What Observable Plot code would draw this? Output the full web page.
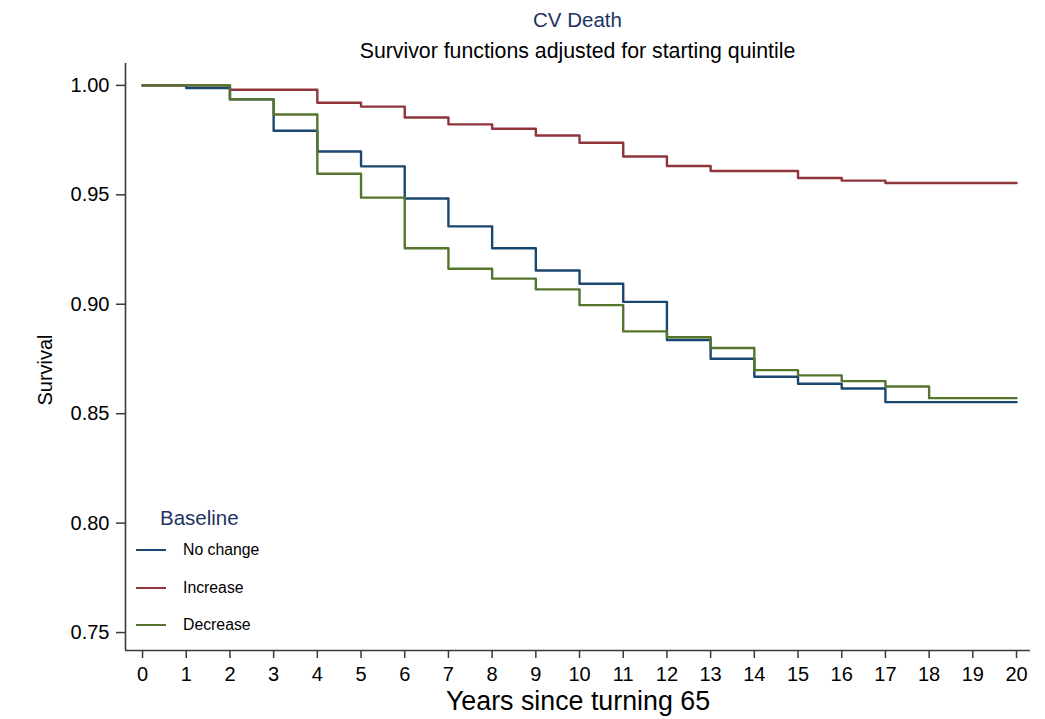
<!DOCTYPE html>
<html><head><meta charset="utf-8">
<script src="https://cdn.jsdelivr.net/npm/d3@7"></script>
<script src="https://cdn.jsdelivr.net/npm/@observablehq/plot@0.6"></script>
<style>
body{margin:0;background:#fff;font-family:"Liberation Sans",Arial,Helvetica,sans-serif;}
#wrap{position:relative;width:1045px;height:719px;overflow:hidden;}
#head{height:63px;position:relative;}
.t1{position:absolute;left:125px;width:905px;text-align:center;top:8px;font-size:20.5px;color:#1e3262;}
.t2{position:absolute;left:125px;width:905px;text-align:center;top:39px;font-size:21.3px;color:#000;}
.ylab{position:absolute;left:45px;top:370px;transform:translate(-50%,-50%) rotate(-90deg);font-size:20px;white-space:nowrap;}
.xlab{position:absolute;left:578px;top:701px;transform:translate(-50%,-50%);font-size:26.8px;white-space:nowrap;}
.legtitle{position:absolute;left:160px;top:506px;font-size:20.5px;color:#1e3262;white-space:nowrap;}
.legrow{position:absolute;left:136px;height:20px;white-space:nowrap;}
.legrow span.sw{position:absolute;left:0;top:9px;width:30px;height:2px;}
.legrow span.lb{position:absolute;left:47px;top:0;font-size:15.8px;line-height:20px;}
svg{overflow:visible;}
</style>
</head><body>
<div id="wrap">
  <div id="head"><div class="t1">CV Death</div><div class="t2">Survivor functions adjusted for starting quintile</div></div>
  <div id="chart"></div>
  <div class="ylab">Survival</div>
  <div class="xlab">Years since turning 65</div>
  <div id="legend"></div>
</div>
<script>
const years = [0,1,2,3,4,5,6,7,8,9,10,11,12,13,14,15,16,17,18,19,20];
const seriesNames = ["No change","Increase","Decrease"];
const seriesColors = ["#1a476f","#90353b","#55752f"];
const noChange = [1.000,0.9988,0.9936,0.9793,0.9698,0.9630,0.9483,0.9356,0.9256,0.9154,0.9094,0.9011,0.8837,0.8751,0.8669,0.8637,0.8615,0.8553,0.8553,0.8553,0.8553];
const increase = [1.000,1.000,0.9980,0.9980,0.9921,0.9903,0.9853,0.9822,0.9802,0.9771,0.9738,0.9675,0.9632,0.9609,0.9609,0.9577,0.9565,0.9554,0.9554,0.9554,0.9554];
const decrease = [1.000,1.000,0.9936,0.9867,0.9596,0.9487,0.9256,0.9162,0.9117,0.9068,0.8996,0.8876,0.8849,0.8800,0.8699,0.8675,0.8649,0.8624,0.8571,0.8571,0.8571];
const yTicks = [0.75,0.80,0.85,0.90,0.95,1.00];
const xTicks = years;
const xDomain = [-0.39, 20.32];
const yDomain = [0.7418, 1.010];

const seriesValues = [noChange, increase, decrease];
const data = [];
seriesNames.forEach((name, i) => {
  years.forEach((yr, j) => data.push({series: name, year: yr, value: seriesValues[i][j]}));
});

const axisColor = "#3a3a3a";
const chart = Plot.plot({
  width: 1045,
  height: 656,
  marginTop: 0,
  marginLeft: 125,
  marginRight: 15,
  marginBottom: 69,
  style: {fontFamily: '"Liberation Sans", Arial, Helvetica, sans-serif', background: "#fff", color: "#000"},
  x: {domain: xDomain},
  y: {domain: yDomain},
  color: {domain: seriesNames, range: seriesColors},
  marks: [
    Plot.ruleX([xDomain[0]], {stroke: axisColor, strokeWidth: 1.6}),
    Plot.ruleY([yDomain[0]], {stroke: axisColor, strokeWidth: 1.6}),
    Plot.axisY({ticks: yTicks, tickFormat: d3.format(".2f"), tickSize: 9, tickPadding: 7, fontSize: 20, label: null, stroke: axisColor, strokeWidth: 1.5, strokeOpacity: 1, color: "#000"}),
    Plot.axisX({ticks: xTicks, tickFormat: d => String(d), tickSize: 8, tickPadding: 8, fontSize: 20, label: null, stroke: axisColor, strokeWidth: 1.5, strokeOpacity: 1, color: "#000"}),
    Plot.line(data, {x: "year", y: "value", z: "series", stroke: "series", curve: "step-after", strokeWidth: 2.4})
  ]
});
document.getElementById("chart").appendChild(chart);

const legend = document.getElementById("legend");
const lt = document.createElement("div");
lt.className = "legtitle"; lt.textContent = "Baseline";
legend.appendChild(lt);
seriesNames.forEach((name, i) => {
  const row = document.createElement("div");
  row.className = "legrow";
  row.style.top = (540 + i * 37.5) + "px";
  const sw = document.createElement("span"); sw.className = "sw"; sw.style.background = seriesColors[i];
  const lb = document.createElement("span"); lb.className = "lb"; lb.textContent = name;
  row.appendChild(sw); row.appendChild(lb);
  legend.appendChild(row);
});
</script>
</body></html>
